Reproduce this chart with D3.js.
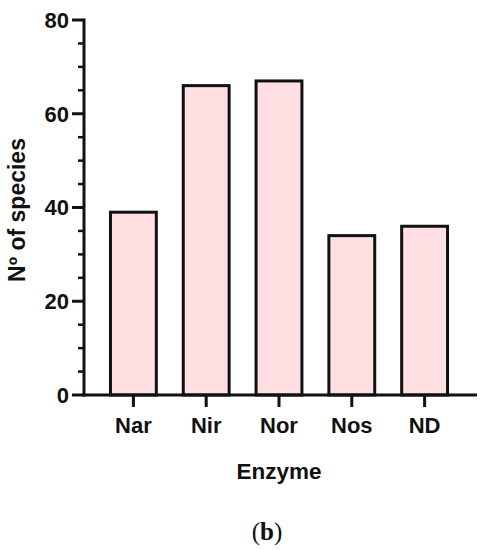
<!DOCTYPE html>
<html>
<head>
<meta charset="utf-8">
<script src="https://cdn.jsdelivr.net/npm/d3@7"></script>
<style>
  body { margin: 0; background: #fff; }
  text { font-family: "Liberation Sans", Arial, sans-serif; font-weight: bold; fill: #111; }
</style>
</head>
<body>
<div id="chart-area"></div>
<script>
// data
let enzymes = ["Nar", "Nir", "Nor", "Nos", "ND"];
let species = [39, 66, 67, 34, 36];
let yTicks = [0, 20, 40, 60, 80];

let svg = d3.select("#chart-area")
    .append("svg")
    .attr("width", 494)
    .attr("height", 550);

// Scales
let x = d3.scaleBand()
    .domain(enzymes)
    .range([97, 461])
    .paddingInner(0.37)
    .paddingOuter(0.185);

let y = d3.scaleLinear()
    .domain([0, 80])
    .range([395, 20]);

let axisLeft = 84, axisRight = 477;

// Bars
svg.selectAll("rect.bar")
    .data(enzymes)
    .enter()
    .append("rect")
    .attr("class", "bar")
    .attr("x", function(d){ return x(d); })
    .attr("y", function(d, i){ return y(species[i]); })
    .attr("width", x.bandwidth())
    .attr("height", function(d, i){ return y(0) - y(species[i]); })
    .attr("fill", "#ffdfe1")
    .attr("stroke", "#111")
    .attr("stroke-width", 3);

// Y axis (major + minor ticks)
let yAxis = svg.append("g");
yAxis.append("line")
    .attr("x1", axisLeft).attr("x2", axisLeft)
    .attr("y1", y(80) - 1.5).attr("y2", y(0) + 1.5)
    .attr("stroke", "#111").attr("stroke-width", 3);

yAxis.selectAll("line.minor")
    .data(d3.range(0, 81, 5).filter(function(d){ return d % 20 !== 0; }))
    .enter()
    .append("line")
    .attr("class", "minor")
    .attr("x1", axisLeft - 6).attr("x2", axisLeft)
    .attr("y1", function(d){ return y(d); }).attr("y2", function(d){ return y(d); })
    .attr("stroke", "#111").attr("stroke-width", 2.5);

yAxis.selectAll("line.major")
    .data(yTicks)
    .enter()
    .append("line")
    .attr("class", "major")
    .attr("x1", axisLeft - 12).attr("x2", axisLeft)
    .attr("y1", function(d){ return y(d); }).attr("y2", function(d){ return y(d); })
    .attr("stroke", "#111").attr("stroke-width", 3);

yAxis.selectAll("text")
    .data(yTicks)
    .enter()
    .append("text")
    .attr("x", axisLeft - 15)
    .attr("y", function(d){ return y(d); })
    .attr("dy", "0.36em")
    .attr("text-anchor", "end")
    .attr("font-size", "22px")
    .text(function(d){ return d; });

// X axis
let xAxis = svg.append("g");
xAxis.append("line")
    .attr("x1", axisLeft - 1.5).attr("x2", axisRight)
    .attr("y1", y(0)).attr("y2", y(0))
    .attr("stroke", "#111").attr("stroke-width", 3);

xAxis.selectAll("line.tick")
    .data(enzymes)
    .enter()
    .append("line")
    .attr("class", "tick")
    .attr("x1", function(d){ return x(d) + x.bandwidth() / 2; })
    .attr("x2", function(d){ return x(d) + x.bandwidth() / 2; })
    .attr("y1", y(0)).attr("y2", y(0) + 12)
    .attr("stroke", "#111").attr("stroke-width", 3);

xAxis.selectAll("text")
    .data(enzymes)
    .enter()
    .append("text")
    .attr("x", function(d){ return x(d) + x.bandwidth() / 2; })
    .attr("y", 433)
    .attr("text-anchor", "middle")
    .attr("font-size", "22px")
    .text(function(d){ return d; });

// X Label
svg.append("text")
    .attr("x", 279)
    .attr("y", 479)
    .attr("text-anchor", "middle")
    .attr("font-size", "22.5px")
    .text("Enzyme");

// Y Label
svg.append("text")
    .attr("transform", "translate(25, 210) rotate(-90)")
    .attr("text-anchor", "middle")
    .attr("font-size", "23px")
    .text("Nº of species");

// caption
svg.append("text")
    .attr("x", 267)
    .attr("y", 540)
    .attr("text-anchor", "middle")
    .attr("font-size", "25px")
    .style("font-family", "'Liberation Serif', 'DejaVu Serif', serif")
    .style("font-weight", "normal")
    .html("(<tspan font-weight='bold'>b</tspan>)");
</script>
</body>
</html>
